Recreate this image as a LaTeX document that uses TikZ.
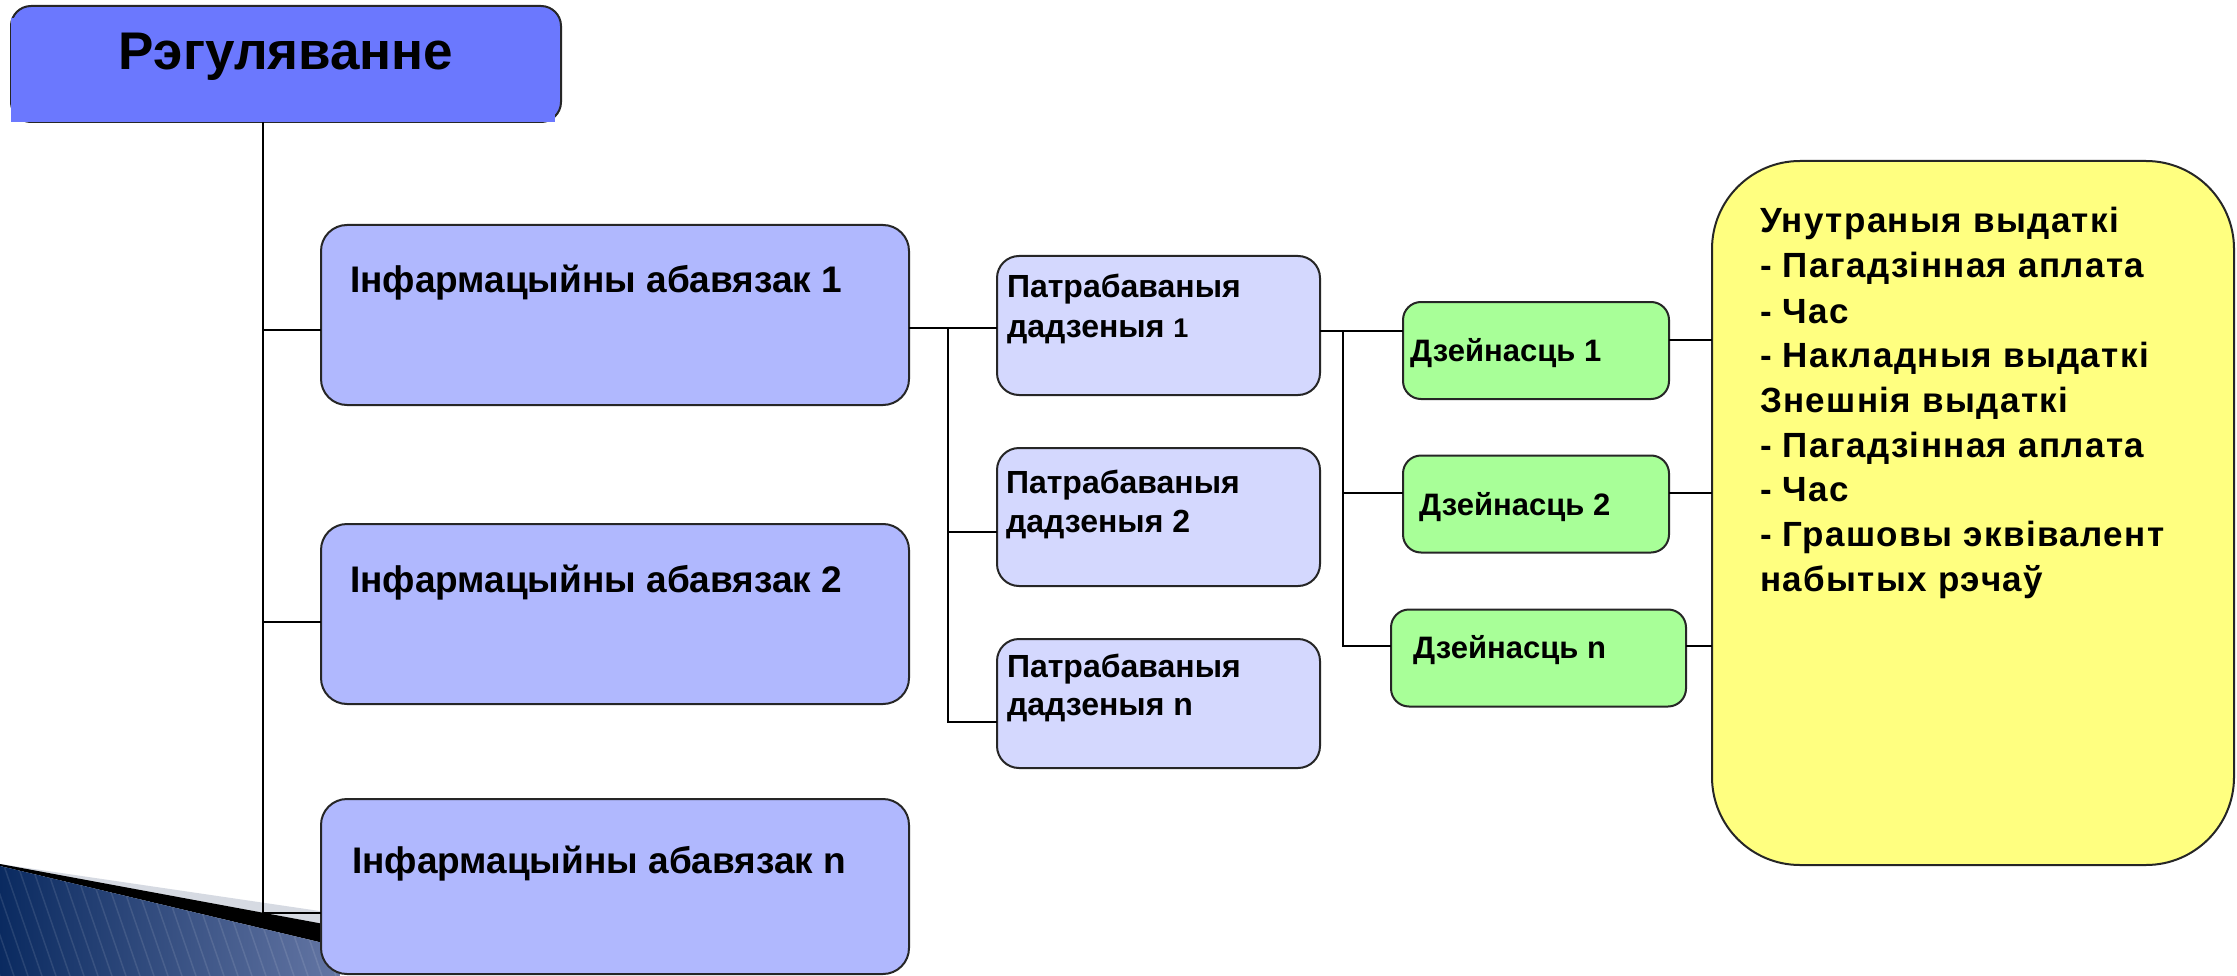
\documentclass[tikz,border=0pt]{standalone}
\usepackage{fontspec}
\setmainfont{Liberation Sans}
\newfontfamily\yfont{Liberation Sans}[LetterSpace=4]
\newcommand\fsz[1]{\fontsize{#1}{#1}\selectfont}
\definecolor{titlebl}{RGB}{107,120,254}
\definecolor{infobl}{RGB}{176,184,254}
\definecolor{patrbl}{RGB}{212,216,254}
\definecolor{dzgreen}{RGB}{168,255,152}
\definecolor{ylw}{RGB}{255,255,128}
\definecolor{decoA}{RGB}{10,42,96}
\definecolor{decoB}{RGB}{100,118,164}
\definecolor{decogray}{RGB}{214,218,226}
\tikzset{
  boxbase/.style={draw=black!85, line width=2pt, inner sep=0pt, outer sep=0pt},
  titlebox/.style={boxbase, fill=titlebl, rounded corners=20pt, minimum width=550pt, minimum height=116pt},
  infobox/.style={boxbase, fill=infobl, rounded corners=26pt, minimum width=588pt},
  patrbox/.style={boxbase, fill=patrbl, rounded corners=22pt, minimum width=323pt},
  dzbox/.style={boxbase, fill=dzgreen, rounded corners=18pt, minimum height=97pt},
  ybox/.style={boxbase, fill=ylw, rounded corners=88pt, minimum width=522pt, minimum height=704pt},
  conn/.style={draw=black, line width=1.8pt},
  txtbase/.style={inner sep=0pt, outer sep=0pt, anchor=base west},
  titletxt/.style={inner sep=0pt, anchor=base, font=\fsz{53}\bfseries},
  infotxt/.style={txtbase, font=\fsz{37}\bfseries},
  patrtxt/.style={txtbase, font=\fsz{32}\bfseries},
  dztxt/.style={txtbase, font=\fsz{31}\bfseries},
  ytxt/.style={txtbase, font=\yfont\fsz{35}\bfseries},
}
\begin{document}
\begin{tikzpicture}[x=1pt,y=-1pt]
\useasboundingbox (0,0) rectangle (2237,976);
\fill[white] (0,0) rectangle (2237,976);

% decoration bottom-left
\fill[decogray] (0,864) -- (340,914) -- (340,927) -- (0,865) -- cycle;
\fill[black] (0,864) -- (340,927) -- (340,947) -- (0,866) -- cycle;
\begin{scope}
  \clip (0,866) -- (340,947) -- (340,976) -- (0,976) -- cycle;
  \shade[left color=decoA, right color=decoB] (0,860) rectangle (340,976);
  \foreach \i in {0,14,...,420} \draw[white, opacity=0.10, line width=1.5pt] (\i-40,860) -- (\i,976);
\end{scope}

% boxes
\node[titlebox] (top) at (286,64) {};
\fill[titlebl] (11,18) rectangle (555,122);
\node[infobox, minimum height=180pt] (b1) at (615,315) {};
\node[infobox, minimum height=180pt] (b2) at (615,614) {};
\node[infobox, minimum height=175pt] (bn) at (615,886.5) {};
\node[patrbox, minimum height=139pt] (p1) at (1158.5,325.5) {};
\node[patrbox, minimum height=138pt] (p2) at (1158.5,517) {};
\node[patrbox, minimum height=129pt] (pn) at (1158.5,703.5) {};
\node[dzbox, minimum width=266pt] (d1) at (1536,350.5) {};
\node[dzbox, minimum width=266pt] (d2) at (1536,504) {};
\node[dzbox, minimum width=295pt] (dn) at (1538.5,658) {};
\node[ybox] (yb) at (1973,513) {};

% junction coordinates
\coordinate (jm1) at (263,330);
\coordinate (jm2) at (263,622);
\coordinate (jm3) at (263,913);
\coordinate (jp1) at (948,328);
\coordinate (jp2) at (948,532);
\coordinate (jp3) at (948,722);
\coordinate (jd1) at (1343,331);
\coordinate (jd2) at (1343,493);
\coordinate (jd3) at (1343,646);
\coordinate (jy1) at (1690,340);
\coordinate (jy2) at (1690,493);
\coordinate (jy3) at (1690,646);

% connectors
\draw[conn] (top.south -| jm1) -- (jm3) -- (bn.west |- jm3);
\draw[conn] (jm1) -- (b1.west |- jm1);
\draw[conn] (jm2) -- (b2.west |- jm2);
\draw[conn] (b1.east |- jp1) -- (p1.west |- jp1);
\draw[conn] (jp1) -- (jp3) -- (pn.west |- jp3);
\draw[conn] (jp2) -- (p2.west |- jp2);
\draw[conn] (p1.east |- jd1) -- (d1.west |- jd1);
\draw[conn] (jd1) -- (jd3) -- (dn.west |- jd3);
\draw[conn] (jd2) -- (d2.west |- jd2);
\draw[conn] (d1.east |- jy1) -- (yb.west |- jy1);
\draw[conn] (d2.east |- jy2) -- (yb.west |- jy2);
\draw[conn] (dn.east |- jy3) -- (yb.west |- jy3);

% texts
\node[titletxt] (tt) at (286,70) {Рэгуляванне};
\node[infotxt] (b1t) at (350,293) {Інфармацыйны абавязак 1};
\node[infotxt] (b2t) at (350,592) {Інфармацыйны абавязак 2};
\node[infotxt] (bnt) at (352,873) {Інфармацыйны абавязак n};
\node[patrtxt] (p1a) at (1007,298) {Патрабаваныя};
\node[patrtxt] (p1b) at (1007,337) {дадзеныя {\fsz{27}1}};
\node[patrtxt] (p2a) at (1006,493) {Патрабаваныя};
\node[patrtxt] (p2b) at (1006,532) {дадзеныя 2};
\node[patrtxt] (pna) at (1007,677) {Патрабаваныя};
\node[patrtxt] (pnb) at (1007,715) {дадзеныя n};
\node[dztxt] (d1t) at (1410,361) {Дзейнасць 1};
\node[dztxt] (d2t) at (1419,515) {Дзейнасць 2};
\node[dztxt] (dnt) at (1413,658) {Дзейнасць n};
\node[ytxt] (y1) at (1760,233) {Унутраныя выдаткі};
\node[ytxt] (y2) at (1760,278) {- Пагадзінная аплата};
\node[ytxt] (y3) at (1760,323) {- Час};
\node[ytxt] (y4) at (1760,367) {- Накладныя выдаткі};
\node[ytxt] (y5) at (1760,412) {Знешнія выдаткі};
\node[ytxt] (y6) at (1760,457) {- Пагадзінная аплата};
\node[ytxt] (y7) at (1760,501) {- Час};
\node[ytxt] (y8) at (1760,546) {- Грашовы эквівалент};
\node[ytxt] (y9) at (1760,591) {набытых рэчаў};
\end{tikzpicture}
\end{document}
